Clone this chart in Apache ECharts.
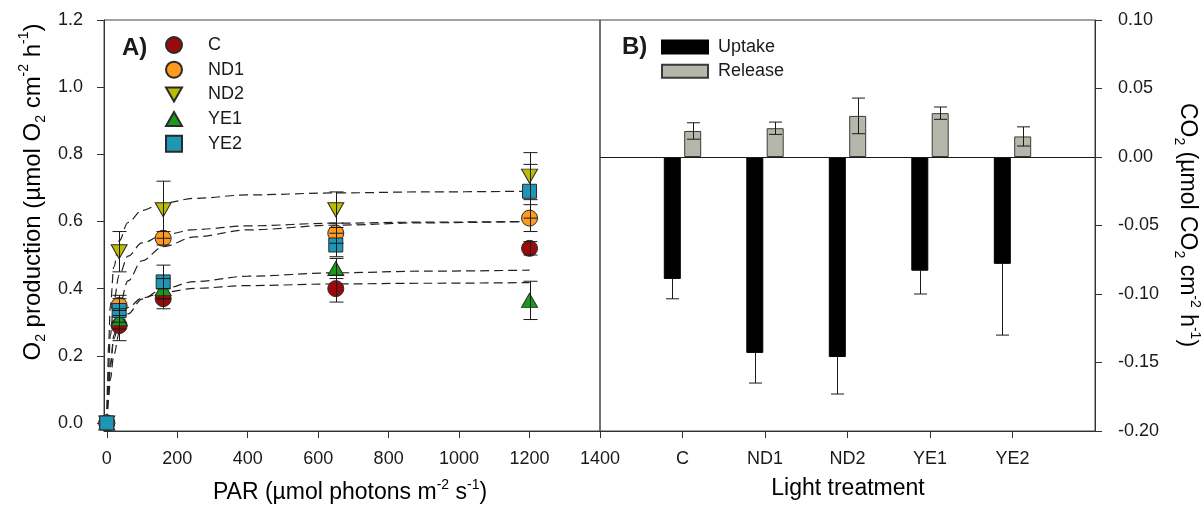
<!DOCTYPE html>
<html>
<head>
<meta charset="utf-8">
<script src="https://cdn.jsdelivr.net/npm/echarts@6/dist/echarts.min.js"></script>
<style>
  html, body { margin: 0; padding: 0; background: #fff; }
  #chart { width: 1204px; height: 511px; }
</style>
</head>
<body>
<div id="chart"></div>
<script>
// ---- Panel A: O2 production against irradiance ----
const parLevels = [0, 35, 160, 650, 1200];

const o2C   = [0, 0.29, 0.37, 0.40, 0.52];
const o2ND1 = [0, 0.35, 0.55, 0.565, 0.61];
const o2ND2 = [0, 0.51, 0.635, 0.635, 0.735];
const o2YE1 = [0, 0.31, 0.40, 0.46, 0.365];
const o2YE2 = [0, 0.335, 0.42, 0.53, 0.69];

const errC   = [0, 0.045, 0.03, 0.04, 0.02];
const errND1 = [0, 0.03, 0.02, 0.03, 0.04];
const errND2 = [0, 0.06, 0.085, 0.053, 0.07];
const errYE1 = [0, 0.03, 0.03, 0.03, 0.057];
const errYE2 = [0, 0.035, 0.05, 0.035, 0.08];

// fitted P-I curves, sampled along PAR
const fitPar = [0, 2, 5, 10, 20, 35, 60, 100, 160, 250, 400, 650, 900, 1200];
const fitC   = [0, 0.054, 0.112, 0.178, 0.250, 0.303, 0.344, 0.372, 0.389, 0.401, 0.409, 0.414, 0.416, 0.418];
const fitND1 = [0, 0.079, 0.166, 0.260, 0.364, 0.440, 0.497, 0.536, 0.560, 0.576, 0.587, 0.595, 0.598, 0.600];
const fitND2 = [0, 0.116, 0.233, 0.349, 0.465, 0.542, 0.597, 0.633, 0.655, 0.669, 0.679, 0.685, 0.688, 0.690];
const fitYE1 = [0, 0.033, 0.075, 0.130, 0.203, 0.267, 0.325, 0.369, 0.400, 0.421, 0.437, 0.447, 0.452, 0.455];
const fitYE2 = [0, 0.042, 0.096, 0.166, 0.261, 0.346, 0.423, 0.483, 0.525, 0.554, 0.575, 0.589, 0.596, 0.600];

const parTicks = [0, 200, 400, 600, 800, 1000, 1200, 1400];
const o2Ticks  = [0, 0.2, 0.4, 0.6, 0.8, 1.0, 1.2];

// ---- Panel B: CO2 exchange per light treatment ----
const treatments = ['C', 'ND1', 'ND2', 'YE1', 'YE2'];
const uptake     = [-0.089, -0.143, -0.146, -0.083, -0.078];
const uptakeErr  = [0.0145, 0.022, 0.027, 0.017, 0.052];
const release    = [0.019, 0.021, 0.030, 0.032, 0.015];
const releaseErr = [0.006, 0.0045, 0.013, 0.0045, 0.007];

const FONT = 'Liberation Sans, Arial, Helvetica, sans-serif';
const INK = '#1a1a1a';
const BAR_W = 17;
const BAR_GAP = 0.2;
const BAR_OFFSET = (BAR_W + BAR_W * BAR_GAP) / 2;

const groups = [
  { name: 'C',   y: o2C,   err: errC,   fit: fitC,   color: '#990a0a', symbol: 'circle', size: 16 },
  { name: 'ND1', y: o2ND1, err: errND1, fit: fitND1, color: '#ff9a1f', symbol: 'circle', size: 16 },
  { name: 'ND2', y: o2ND2, err: errND2, fit: fitND2, color: '#bcbc00', symbol: 'path://M0,0L16,0L8,14Z', size: [16, 14] },
  { name: 'YE1', y: o2YE1, err: errYE1, fit: fitYE1, color: '#1a9a1a', symbol: 'path://M8,0L16,14L0,14Z', size: [16, 14] },
  { name: 'YE2', y: o2YE2, err: errYE2, fit: fitYE2, color: '#1e96b6', symbol: 'rect', size: 14 }
];

function capLines(x, yA, yB, half, withTop, withBottom) {
  const st = { stroke: INK, lineWidth: 1 };
  const ch = [{ type: 'line', shape: { x1: x, y1: yA, x2: x, y2: yB }, style: st }];
  if (withTop) ch.push({ type: 'line', shape: { x1: x - half, y1: yA, x2: x + half, y2: yA }, style: st });
  if (withBottom) ch.push({ type: 'line', shape: { x1: x - half, y1: yB, x2: x + half, y2: yB }, style: st });
  return { type: 'group', children: ch };
}

function renderErrA(params, api) {
  const x = api.value(0), y = api.value(1), e = api.value(2);
  if (!e) return;
  const hi = api.coord([x, y + e]);
  const lo = api.coord([x, y - e]);
  return capLines(Math.round(hi[0]) + 0.5, hi[1], lo[1], 7, true, true);
}

function makeErrB(offset, oneSided) {
  return function (params, api) {
    const i = api.value(0), v = api.value(1), e = api.value(2);
    const base = api.coord([i, v]);
    const x = Math.round(base[0] + offset) + 0.5;
    if (oneSided) {
      const lo = api.coord([i, v - e]);
      return capLines(x, base[1], lo[1], 6.5, false, true);
    }
    const hi = api.coord([i, v + e]);
    const lo = api.coord([i, v - e]);
    return capLines(x, hi[1], lo[1], 6.5, true, true);
  };
}

const series = [];

// dashed fit curves
groups.forEach(function (g) {
  series.push({
    type: 'line', xAxisIndex: 0, yAxisIndex: 0,
    data: fitPar.map(function (p, i) { return [p, g.fit[i]]; }),
    smooth: 0.35, smoothMonotone: 'x', showSymbol: false, symbol: 'none',
    lineStyle: { color: '#222', width: 1.2, type: [9, 5] },
    silent: true, z: 2
  });
});

// measured points
groups.forEach(function (g) {
  series.push({
    name: g.name, type: 'scatter', xAxisIndex: 0, yAxisIndex: 0,
    data: parLevels.map(function (p, i) { return [p, g.y[i]]; }),
    symbol: g.symbol, symbolSize: g.size,
    itemStyle: { color: g.color, borderColor: '#2a2a2a', borderWidth: 1, opacity: 1 },
    z: 3
  });
});

// error bars for measured points
const errAData = [];
groups.forEach(function (g) {
  parLevels.forEach(function (p, i) { errAData.push([p, g.y[i], g.err[i]]); });
});
series.push({
  type: 'custom', xAxisIndex: 0, yAxisIndex: 0, renderItem: renderErrA,
  data: errAData, silent: true, z: 4
});

// CO2 bars
const catAxis = [''].concat(treatments, ['']);
series.push({
  name: 'Uptake', type: 'bar', xAxisIndex: 1, yAxisIndex: 1,
  data: ['-'].concat(uptake, ['-']),
  barWidth: BAR_W, barGap: (BAR_GAP * 100) + '%',
  itemStyle: { color: '#000', borderColor: '#000', borderWidth: 1 },
  z: 2
});
series.push({
  name: 'Release', type: 'bar', xAxisIndex: 1, yAxisIndex: 1,
  data: ['-'].concat(release, ['-']),
  barWidth: BAR_W, barGap: (BAR_GAP * 100) + '%',
  itemStyle: { color: '#b5b7aa', borderColor: '#3a3a3a', borderWidth: 1 },
  markLine: {
    silent: true, symbol: 'none', label: { show: false },
    lineStyle: { color: INK, type: 'solid', width: 1 },
    data: [{ yAxis: 0 }]
  },
  z: 2
});
series.push({
  type: 'custom', xAxisIndex: 1, yAxisIndex: 1, renderItem: makeErrB(-BAR_OFFSET, true),
  data: treatments.map(function (t, i) { return [i + 1, uptake[i], uptakeErr[i]]; }),
  silent: true, z: 4
});
series.push({
  type: 'custom', xAxisIndex: 1, yAxisIndex: 1, renderItem: makeErrB(BAR_OFFSET, false),
  data: treatments.map(function (t, i) { return [i + 1, release[i], releaseErr[i]]; }),
  silent: true, z: 4
});

const axisLineStyle = { show: true, onZero: false, lineStyle: { color: '#333', width: 1 } };
const tickStyle = { show: true, inside: false, length: 7, lineStyle: { color: '#333', width: 1 } };
const labelStyle = { color: INK, fontSize: 18, fontFamily: FONT };

function rich(size) {
  const small = Math.round(size * 0.6);
  return {
    n:   { fontSize: size, fontFamily: FONT, color: INK, lineHeight: size + 7 },
    sup: { fontSize: small, fontFamily: FONT, color: INK, lineHeight: small + 1, verticalAlign: 'top' },
    sub: { fontSize: small, fontFamily: FONT, color: INK, lineHeight: small + 1, verticalAlign: 'bottom' }
  };
}

function titleText(x, y, rot, size, text) {
  return {
    type: 'text', x: x, y: y, rotation: rot, silent: true,
    style: { text: text, rich: rich(size), align: 'center', verticalAlign: 'middle', fontFamily: FONT }
  };
}

const option = {
  backgroundColor: '#fff',
  animation: false,
  grid: [
    { left: 104, top: 20, width: 496, height: 411, show: true, borderColor: '#444', borderWidth: 1, backgroundColor: 'transparent' },
    { left: 600, top: 20, width: 495, height: 411, show: true, borderColor: '#444', borderWidth: 1, backgroundColor: 'transparent' }
  ],
  legend: [
    {
      data: groups.map(function (g) { return g.name; }),
      orient: 'vertical', left: 165, top: 36, padding: 0,
      itemWidth: 16, itemHeight: 16, itemGap: 6.7,
      textStyle: { fontSize: 18, fontFamily: FONT, color: INK, padding: [0, 0, 0, 21] },
      selectedMode: false
    },
    {
      data: ['Uptake', 'Release'],
      orient: 'vertical', left: 661, top: 38, padding: 0,
      icon: 'rect', itemWidth: 46, itemHeight: 13, itemGap: 6.3,
      textStyle: { fontSize: 18, fontFamily: FONT, color: INK, padding: [0, 0, 0, 5] },
      selectedMode: false
    }
  ],
  xAxis: [
    {
      type: 'value', gridIndex: 0, min: -8, max: 1400,
      axisLine: axisLineStyle,
      axisTick: Object.assign({}, tickStyle, { customValues: parTicks }),
      axisLabel: Object.assign({}, labelStyle, {
        margin: 19, customValues: parTicks,
        formatter: function (v) { return String(v); }
      }),
      splitLine: { show: false }
    },
    {
      type: 'category', gridIndex: 1, data: catAxis, boundaryGap: false,
      axisLine: axisLineStyle,
      axisTick: Object.assign({}, tickStyle, { interval: function (i) { return i > 0 && i < catAxis.length - 1; } }),
      axisLabel: Object.assign({}, labelStyle, { margin: 19, interval: 0 }),
      splitLine: { show: false }
    }
  ],
  yAxis: [
    {
      type: 'value', gridIndex: 0, min: -0.024, max: 1.2,
      axisLine: axisLineStyle,
      axisTick: Object.assign({}, tickStyle, { customValues: o2Ticks }),
      axisLabel: Object.assign({}, labelStyle, {
        margin: 21, customValues: o2Ticks,
        formatter: function (v) { return v.toFixed(1); }
      }),
      splitLine: { show: false }
    },
    {
      type: 'value', gridIndex: 1, position: 'right', min: -0.2, max: 0.1, interval: 0.05,
      axisLine: axisLineStyle,
      axisTick: tickStyle,
      axisLabel: Object.assign({}, labelStyle, {
        margin: 23,
        formatter: function (v) { return v.toFixed(2); }
      }),
      splitLine: { show: false }
    }
  ],
  graphic: [
    { type: 'text', x: 122, y: 48, silent: true,
      style: { text: 'A)', fontSize: 24, fontWeight: 'bold', fontFamily: FONT, fill: INK, verticalAlign: 'middle' } },
    { type: 'text', x: 622, y: 47, silent: true,
      style: { text: 'B)', fontSize: 24, fontWeight: 'bold', fontFamily: FONT, fill: INK, verticalAlign: 'middle' } },
    titleText(33, 192, Math.PI / 2, 24,
      '{n|O}{sub|2}{n| production (µmol O}{sub|2}{n| cm}{sup|-2}{n| h}{sup|-1}{n|)}'),
    titleText(1187, 225, -Math.PI / 2, 23,
      '{n|CO}{sub|2}{n| (µmol CO}{sub|2}{n| cm}{sup|-2}{n| h}{sup|-1}{n|)}'),
    titleText(350, 493, 0, 23,
      '{n|PAR (µmol photons m}{sup|-2}{n| s}{sup|-1}{n|)}'),
    titleText(848, 489, 0, 23, '{n|Light treatment}')
  ],
  series: series
};

const chart = echarts.init(document.getElementById('chart'), null, { renderer: 'canvas' });
chart.setOption(option);
</script>
</body>
</html>
